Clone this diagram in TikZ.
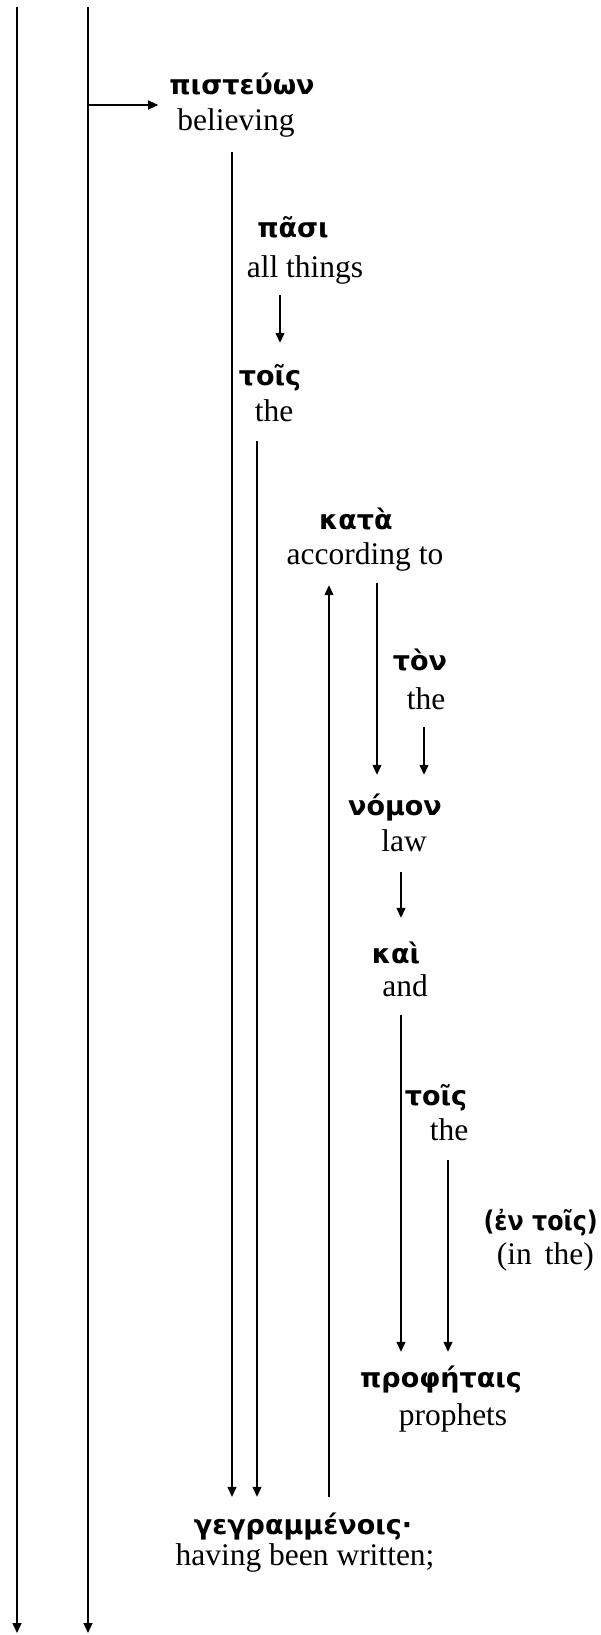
\documentclass[tikz,border=0pt]{standalone}
\usepackage{fontspec}
\setmainfont{Liberation Serif}
\newfontfamily\grk{DejaVu Sans}
\usetikzlibrary{arrows.meta}
\begin{document}
\begin{tikzpicture}[x=1pt,y=1pt,
  gk/.style={font=\grk\bfseries\fontsize{27pt}{31pt}\selectfont, inner sep=0pt,
    text height=17pt, text depth=0pt, anchor=base},
  en/.style={font=\fontsize{31.5pt}{36pt}\selectfont, inner sep=0pt,
    text height=22pt, text depth=0pt, anchor=base},
  arr/.style={line width=1.3pt, -{Triangle[length=10pt,width=9pt]}}]
\useasboundingbox (0,0) rectangle (600,-1635);

% words: Greek line above, English gloss below
\node[gk] (g1)  at (242,-95)   {πιστεύων};
\node[en] (e1)  at (236,-131)  {believing};
\node[gk] (g2)  at (293,-237)  {πᾶσι};
\node[en] (e2)  at (305,-277)  {all things};
\node[gk] (g3)  at (270,-385)  {τοῖς};
\node[en] (e3)  at (274,-421)  {the};
\node[gk] (g4)  at (356,-529)  {κατὰ};
\node[en] (e4)  at (365,-564)  {according to};
\node[gk] (g5)  at (420,-670)  {τὸν};
\node[en] (e5)  at (426,-709)  {the};
\node[gk] (g6)  at (395,-815)  {νόμον};
\node[en] (e6)  at (404,-851)  {law};
\node[gk] (g7)  at (396,-963)  {καὶ};
\node[en] (e7)  at (405,-996)  {and};
\node[gk] (g8)  at (436,-1105) {τοῖς};
\node[en] (e8)  at (449,-1140) {the};
\node[gk, anchor=base east] (g9) at (598,-1230) {\scalebox{0.88}[1]{(ἐν τοῖς)}};
\node[en, anchor=base east] (e9) at (594,-1264) {(in\hspace{13pt}the)};
\node[gk] (g10) at (441,-1387) {προφήταις};
\node[en] (e10) at (453,-1425) {prophets};
\node[gk] (g11) at (303,-1534) {γεγραμμένοις·};
\node[en] (e11) at (305,-1565) {having been written;};

% columns of the vertical connectors
\coordinate (cA) at (232,0);
\coordinate (cB) at (280,0);
\coordinate (cC) at (257,0);
\coordinate (cD) at (329,0);
\coordinate (cE) at (377,0);
\coordinate (cF) at (424,0);
\coordinate (cG) at (401,0);
\coordinate (cH) at (448,0);

% two long lines on the left
\coordinate (top1) at (17,-7);
\coordinate (bot1) at (17,-1633);
\coordinate (top2) at (88,-7);
\coordinate (bot2) at (88,-1633);
\draw[arr] (top1) -- (bot1);
\draw[arr] (top2) -- (bot2);
\coordinate (h1) at (88,-105);
\draw[arr, shorten >=11pt] (h1) -- (h1 -| g1.west);

% connectors
\draw[arr, shorten <=21pt, shorten >=20pt] (e1.south -| cA) -- (g11.north -| cA);
\draw[arr, shorten <=18pt, shorten >=25pt] (e2.south -| cB) -- (g3.north -| cB);
\draw[arr, shorten <=20pt, shorten >=20pt] (e3.south -| cC) -- (g11.north -| cC);
\draw[arr, shorten <=20pt, shorten >=21pt] (g11.north -| cD) -- (e4.south -| cD);
\draw[arr, shorten <=19pt, shorten >=23pt] (e4.south -| cE) -- (g6.north -| cE);
\draw[arr, shorten <=18pt, shorten >=23pt] (e5.south -| cF) -- (g6.north -| cF);
\draw[arr, shorten <=21pt, shorten >=28pt] (e6.south -| cG) -- (g7.north -| cG);
\draw[arr, shorten <=19pt, shorten >=18pt] (e7.south -| cG) -- (g10.north -| cG);
\draw[arr, shorten <=20pt, shorten >=18pt] (e8.south -| cH) -- (g10.north -| cH);
\end{tikzpicture}
\end{document}
